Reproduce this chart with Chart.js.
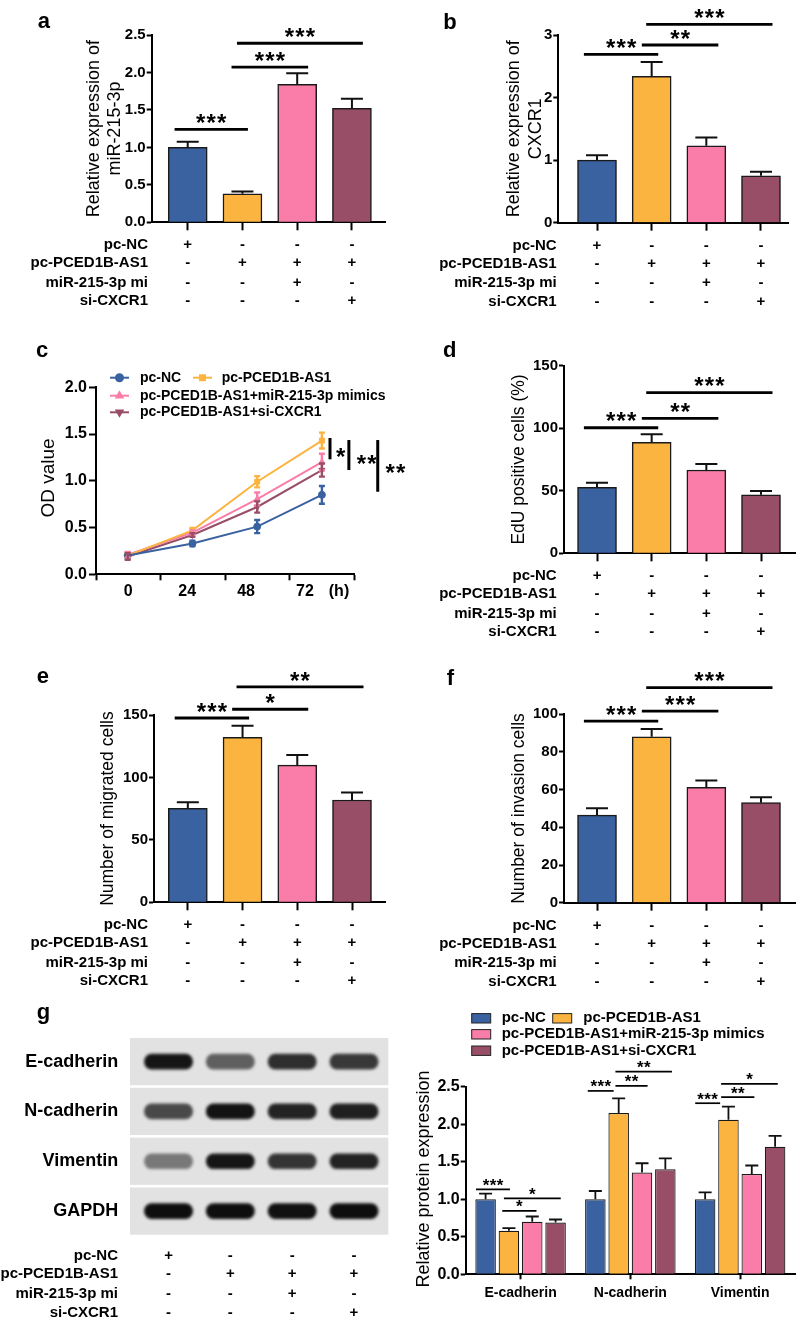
<!DOCTYPE html>
<html><head><meta charset="utf-8">
<script src="https://cdn.jsdelivr.net/npm/chart.js@4.4.1/dist/chart.umd.min.js"></script>
<style>
html,body{margin:0;padding:0;background:#fff;}
#page{position:relative;width:800px;height:1324px;overflow:hidden;background:#fff;}
canvas{position:absolute;}
</style></head><body><div id="page">
<canvas id="cA" width="400" height="330" style="left:0;top:0"></canvas>
<canvas id="cB" width="400" height="330" style="left:400px;top:0"></canvas>
<canvas id="cC" width="420" height="330" style="left:0;top:330px"></canvas>
<canvas id="cD" width="400" height="330" style="left:400px;top:330px"></canvas>
<canvas id="cE" width="400" height="330" style="left:0;top:660px"></canvas>
<canvas id="cF" width="400" height="330" style="left:400px;top:660px"></canvas>
<canvas id="cG1" width="400" height="334" style="left:0;top:990px"></canvas>
<canvas id="cG2" width="400" height="334" style="left:400px;top:990px"></canvas>
</div>
<script>
// ---------------- data ----------------
const groupNames = ['pc-NC','pc-PCED1B-AS1','pc-PCED1B-AS1+miR-215-3p mimics','pc-PCED1B-AS1+si-CXCR1'];
const groupIndex = [0,1,2,3];
const treatmentRows = ['pc-NC','pc-PCED1B-AS1','miR-215-3p mi','si-CXCR1'];
const treatmentSigns = [['+','-','-','-'],['-','+','+','+'],['-','-','+','-'],['-','-','-','+']];
const barColors = ['#3A62A0','#FBB440','#FA7CA8','#984E66'];

// a: miR-215-3p
const miR215Mean = [1.00, 0.38, 1.84, 1.52];
const miR215Sem  = [0.075, 0.03, 0.15, 0.13];
const miR215Sig  = [{x1:-0.24,x2:1.10,y:1.24,label:'***'},{x1:0.80,x2:2.20,y:2.07,label:'***'},{x1:0.90,x2:3.20,y:2.39,label:'***'}];
// b: CXCR1
const cxcr1Mean = [1.00, 2.34, 1.23, 0.75];
const cxcr1Sem  = [0.08, 0.23, 0.13, 0.065];
const cxcr1Sig  = [{x1:-0.24,x2:1.12,y:2.69,label:'***'},{x1:0.82,x2:2.22,y:2.84,label:'**'},{x1:0.90,x2:3.21,y:3.17,label:'***'}];
// c: OD value
const timePoints = [0, 24, 48, 72];
const odPcNC = [0.20, 0.33, 0.51, 0.85];
const odPcNCSem = [0.035, 0.03, 0.07, 0.095];
const odPced = [0.20, 0.47, 0.99, 1.43];
const odPcedSem = [0.03, 0.025, 0.06, 0.085];
const odMimics = [0.21, 0.445, 0.805, 1.20];
const odMimicsSem = [0.03, 0.025, 0.07, 0.09];
const odSiCxcr1 = [0.19, 0.42, 0.72, 1.115];
const odSiCxcr1Sem = [0.035, 0.02, 0.06, 0.07];
const odSig = [{x:75,y1:1.458,y2:1.23,label:'*',lx:79,ly:1.31},{x:82,y1:1.436,y2:1.115,label:'**',lx:88.6,ly:1.24},{x:92.7,y1:1.436,y2:0.883,label:'**',lx:99.3,ly:1.134}];
// d: EdU
const eduMean = [52.8, 88.7, 66.6, 46.8];
const eduSem  = [3.6, 6.4, 4.8, 3.0];
const eduSig  = [{x1:-0.24,x2:1.12,y:100.4,label:'***'},{x1:0.82,x2:2.22,y:107.9,label:'**'},{x1:0.90,x2:3.21,y:128.4,label:'***'}];
// e: migrated
const migMean = [75.3, 132.1, 109.9, 81.9];
const migSem  = [4.8, 9.3, 8.0, 6.1];
const migSig  = [{x1:-0.24,x2:1.12,y:147.6,label:'***'},{x1:0.81,x2:2.20,y:154.6,label:'*'},{x1:0.89,x2:3.21,y:172.5,label:'**'}];
// f: invasion
const invMean = [46.5, 88.1, 61.3, 53.1];
const invSem  = [3.6, 4.1, 3.5, 2.9];
const invSig  = [{x1:-0.24,x2:1.12,y:96.4,label:'***'},{x1:0.82,x2:2.22,y:101.7,label:'***'},{x1:0.90,x2:3.21,y:114.2,label:'***'}];
// g: western blot + protein quantification
const blotProteins = ['E-cadherin','N-cadherin','Vimentin','GAPDH'];
const blotLanes = [0,1,2,3];
const blotIntensity = [[0.97,0.62,0.85,0.8],[0.72,0.98,0.9,0.92],[0.5,0.97,0.82,0.9],[1.0,1.0,0.99,1.0]];
const proteins = ['E-cadherin','N-cadherin','Vimentin'];
const protPcNC = [1.00, 1.00, 1.00];   const protPcNCSem = [0.075, 0.11, 0.093];
const protPced = [0.58, 2.15, 2.06];   const protPcedSem = [0.035, 0.195, 0.175];
const protMimics = [0.70, 1.355, 1.335]; const protMimicsSem = [0.07, 0.125, 0.115];
const protSi = [0.69, 1.40, 1.70];     const protSiSem = [0.04, 0.145, 0.145];
const protSig = [
  {x1:-0.406,x2:-0.097,y:1.133,label:'***'},{x1:-0.167,x2:0.145,y:0.844,label:'*'},{x1:-0.152,x2:0.366,y:1.013,label:'*'},
  {x1:0.612,x2:0.848,y:2.444,label:'***'},{x1:0.864,x2:1.157,y:2.51,label:'**'},{x1:0.864,x2:1.379,y:2.70,label:'**'},
  {x1:1.591,x2:1.818,y:2.28,label:'***'},{x1:1.827,x2:2.13,y:2.36,label:'**'},{x1:1.827,x2:2.343,y:2.537,label:'*'}
];

// ---------------- helpers ----------------
const FONT = '"Liberation Sans", Arial, Helvetica, sans-serif';
Chart.defaults.font.family = FONT;
Chart.defaults.color = '#000';
const fitH = h => s => { s.height = h; s.paddingLeft = 0; s.paddingRight = 0; };
const fitW = w => s => { s.width = w; s.paddingTop = 0; s.paddingBottom = 0; };

function drawStars(ctx, label, cx, cy, size, spacing){
  ctx.save();
  ctx.font = `bold ${size}px ${FONT}`; ctx.textAlign='center'; ctx.textBaseline='alphabetic'; ctx.fillStyle='#000';
  const n = label.length;
  for (let i=0;i<n;i++){ ctx.fillText('*', cx + (i-(n-1)/2)*spacing, cy + 0.55*size); }
  ctx.restore();
}
function drawYTitle(ctx, lines, xs, cy, size){
  ctx.save(); ctx.font = `${size}px ${FONT}`; ctx.fillStyle='#000'; ctx.textAlign='center'; ctx.textBaseline='alphabetic';
  lines.forEach((t,i)=>{ ctx.save(); ctx.translate(xs[i], cy); ctx.rotate(-Math.PI/2); ctx.fillText(t,0,0); ctx.restore(); });
  ctx.restore();
}
function drawLetter(ctx, letter, x, y){
  ctx.save(); ctx.font = `bold 22px ${FONT}`; ctx.fillStyle='#000'; ctx.textAlign='left'; ctx.textBaseline='alphabetic';
  ctx.fillText(letter, x, y); ctx.restore();
}
function drawSignTable(ctx, xs, axisY, rightX, offsets, positions){
  ctx.save(); ctx.font = `bold 15px ${FONT}`; ctx.fillStyle='#000'; ctx.textBaseline='middle';
  treatmentRows.forEach((row,r)=>{
    const y = axisY + offsets[r];
    ctx.textAlign='right'; ctx.fillText(row, rightX, y);
    ctx.textAlign='center';
    treatmentSigns[r].forEach((s,i)=>ctx.fillText(s, xs.getPixelForValue(positions[i]), y));
  });
  ctx.restore();
}

function barPanel(id, p){
  const cv = document.getElementById(id); const W = cv.width, H = cv.height;
  const deco = {
    id:'deco'+id,
    afterDatasetsDraw(chart){
      const ctx = chart.ctx, ys = chart.scales.y, meta = chart.getDatasetMeta(0);
      ctx.save(); ctx.strokeStyle='#111'; ctx.lineWidth=2;
      meta.data.forEach((el,i)=>{
        const top = ys.getPixelForValue(p.mean[i] + p.sem[i]);
        ctx.beginPath(); ctx.moveTo(el.x, el.y); ctx.lineTo(el.x, top);
        ctx.moveTo(el.x-11, top); ctx.lineTo(el.x+11, top); ctx.stroke();
      });
      ctx.restore();
    },
    afterDraw(chart){
      const ctx = chart.ctx, xs = chart.scales.x, ys = chart.scales.y;
      drawLetter(ctx, p.letter, p.letterPos[0], p.letterPos[1]);
      drawYTitle(ctx, p.title, p.titleXs, p.titleY, p.titleSize);
      drawSignTable(ctx, xs, chart.chartArea.bottom, p.signRight, [23,41,60.5,79], groupIndex);
      ctx.save(); ctx.strokeStyle='#000'; ctx.lineWidth=2.8;
      p.sig.forEach(s=>{
        const x1 = xs.getPixelForValue(s.x1), x2 = xs.getPixelForValue(s.x2), y = ys.getPixelForValue(s.y);
        ctx.beginPath(); ctx.moveTo(x1,y); ctx.lineTo(x2,y); ctx.stroke();
        drawStars(ctx, s.label, (x1+x2)/2, y-11.5, 24, 10.5);
      });
      ctx.restore();
    }
  };
  return new Chart(cv, {
    type:'bar',
    data:{datasets:[{data: groupIndex.map((g,i)=>({x:g, y:p.mean[i]})), backgroundColor: barColors, borderColor:'#1a1a1a', borderWidth:1.5, barThickness:39}]},
    options:{
      responsive:false, animation:false, devicePixelRatio:1, events:[],
      layout:{padding:{left:0, right:W-p.area[1], top:p.area[2], bottom:H-p.area[3]}},
      plugins:{legend:{display:false}, tooltip:{enabled:false}},
      scales:{
        x:{type:'linear', min:p.xMin, max:p.xMax, offset:false,
           ticks:{display:false, stepSize:1, includeBounds:false},
           grid:{offset:false, drawOnChartArea:false, drawTicks:true, tickLength:8, tickWidth:2, tickColor:'#000'},
           border:{display:true, color:'#000', width:2}, afterFit:fitH(0)},
        y:{type:'linear', min:0, max:p.yMax,
           ticks:{stepSize:p.yStep, font:{size:15, weight:'bold'}, color:'#000', padding:1, callback:v=>v.toFixed(p.dec)},
           grid:{drawOnChartArea:false, drawTicks:true, tickLength:5, tickWidth:2, tickColor:'#000'},
           border:{display:true, color:'#000', width:2}, afterFit:fitW(p.area[0])}
      }
    },
    plugins:[deco]
  });
}

// a
barPanel('cA', {mean:miR215Mean, sem:miR215Sem, sig:miR215Sig, yMax:2.5, yStep:0.5, dec:1,
  area:[151.7,385,35,222.3], xMin:-0.658, xMax:3.604,
  letter:'a', letterPos:[37.7,28.3], title:['Relative expression of','miR-215-3p'], titleXs:[99,119.6], titleY:128.6, titleSize:18, signRight:148});
// b
barPanel('cB', {mean:cxcr1Mean, sem:cxcr1Sem, sig:cxcr1Sig, yMax:3, yStep:1, dec:0,
  area:[158.3,388,35,222.7], xMin:-0.708, xMax:3.494,
  letter:'b', letterPos:[43.3,29.3], title:['Relative expression of','CXCR1'], titleXs:[119,141], titleY:128.8, titleSize:18, signRight:156.7});
// d
barPanel('cD', {mean:eduMean, sem:eduSem, sig:eduSig, yMax:150, yStep:50, dec:0,
  area:[164,395,35.7,223.3], xMin:-0.604, xMax:3.622,
  letter:'d', letterPos:[43,27.3], title:['EdU positive cells (%)'], titleXs:[123.5], titleY:129.5, titleSize:17.5, signRight:156.7});
// e
barPanel('cE', {mean:migMean, sem:migSem, sig:migSig, yMax:150, yStep:50, dec:0,
  area:[154,385,55,242.3], xMin:-0.618, xMax:3.603,
  letter:'e', letterPos:[36.7,23.3], title:['Number of migrated cells'], titleXs:[113.2], titleY:148.6, titleSize:17.5, signRight:148});
// f
barPanel('cF', {mean:invMean, sem:invSem, sig:invSig, yMax:100, yStep:20, dec:0,
  area:[164,395,54.3,242.7], xMin:-0.604, xMax:3.622,
  letter:'f', letterPos:[46.7,25], title:['Number of invasion cells'], titleXs:[123.5], titleY:148.5, titleSize:17.5, signRight:156.7});

// c: line chart
(function(){
  const cv = document.getElementById('cC'); const W = cv.width, H = cv.height;
  const series = [odPcNC, odPced, odMimics, odSiCxcr1];
  const sems = [odPcNCSem, odPcedSem, odMimicsSem, odSiCxcr1Sem];
  const styles = ['circle','rect','triangle','triangle'];
  const rots = [0,0,0,180];
  const legendPos = [{lx:110,tx:140,y:47.7},{lx:193,tx:221.7,y:47.7},{lx:110,tx:140,y:65.7},{lx:110,tx:140,y:82.3}];
  const deco = {
    id:'decoC',
    afterDatasetsDraw(chart){
      const ctx = chart.ctx, ys = chart.scales.y;
      ctx.save(); ctx.lineWidth=2.4;
      series.forEach((s,k)=>{
        const meta = chart.getDatasetMeta(k);
        ctx.strokeStyle = barColors[k];
        meta.data.forEach((pt,i)=>{
          const t = ys.getPixelForValue(s[i]+sems[k][i]), b = ys.getPixelForValue(s[i]-sems[k][i]);
          ctx.beginPath(); ctx.moveTo(pt.x,t); ctx.lineTo(pt.x,b);
          ctx.moveTo(pt.x-3,t); ctx.lineTo(pt.x+3,t); ctx.moveTo(pt.x-3,b); ctx.lineTo(pt.x+3,b); ctx.stroke();
        });
      });
      ctx.restore();
    },
    afterDraw(chart){
      const ctx = chart.ctx, xs = chart.scales.x, ys = chart.scales.y;
      drawLetter(ctx, 'c', 36, 27.3);
      drawYTitle(ctx, ['OD value'], [54], 148, 19);
      ctx.save(); ctx.font = `bold 16px ${FONT}`; ctx.fillStyle='#000'; ctx.textAlign='center'; ctx.textBaseline='middle';
      ctx.fillText('(h)', 339, 261.7); ctx.restore();
      // legend
      ctx.save();
      groupNames.forEach((name,k)=>{
        const L = legendPos[k];
        ctx.strokeStyle = barColors[k]; ctx.fillStyle = barColors[k]; ctx.lineWidth = 2;
        ctx.beginPath(); ctx.moveTo(L.lx, L.y); ctx.lineTo(L.lx+19, L.y); ctx.stroke();
        Chart.helpers.drawPoint(ctx, {pointStyle:styles[k], radius:3.5, rotation:rots[k], borderWidth:1}, L.lx+9.5, L.y);
        ctx.fillStyle='#000'; ctx.font = `bold 14px ${FONT}`; ctx.textAlign='left'; ctx.textBaseline='middle';
        ctx.fillText(name, L.tx, L.y);
      });
      ctx.restore();
      // significance
      ctx.save(); ctx.strokeStyle='#000'; ctx.lineWidth=3;
      odSig.forEach(s=>{
        const x = xs.getPixelForValue(s.x);
        ctx.beginPath(); ctx.moveTo(x, ys.getPixelForValue(s.y1)); ctx.lineTo(x, ys.getPixelForValue(s.y2)); ctx.stroke();
        drawStars(ctx, s.label, xs.getPixelForValue(s.lx), ys.getPixelForValue(s.ly), 24, 10.5);
      });
      ctx.restore();
    }
  };
  new Chart(cv, {
    type:'line',
    data:{datasets: groupNames.map((name,k)=>({label:name, data: timePoints.map((t,i)=>({x:t, y:series[k][i]})),
      borderColor:barColors[k], backgroundColor:barColors[k], borderWidth:2, pointStyle:styles[k], pointRotation:rots[k],
      pointRadius:3.5, pointBorderWidth:1, tension:0}))},
    options:{
      responsive:false, animation:false, devicePixelRatio:1, events:[],
      layout:{padding:{left:0, right:W-354, top:57.3, bottom:0}},
      plugins:{legend:{display:false}, tooltip:{enabled:false}},
      scales:{
        x:{type:'linear', position:'bottom', weight:0, min:-11.76, max:83.9,
           ticks:{display:false, stepSize:24, includeBounds:false},
           grid:{drawOnChartArea:false, drawTicks:true, tickLength:6, tickWidth:2, tickColor:'#000'},
           border:{display:true, color:'#000', width:2}, afterFit:fitH(0)},
        x2:{type:'linear', position:'bottom', weight:1, min:-13.16, max:91.97,
           ticks:{stepSize:24, includeBounds:false, font:{size:16, weight:'bold'}, color:'#000', padding:7.8, maxRotation:0},
           grid:{display:false, drawTicks:false}, border:{display:false}, afterFit:fitH(H-244.3)},
        y:{type:'linear', min:0, max:2, 
           ticks:{stepSize:0.5, font:{size:16, weight:'bold'}, color:'#000', padding:2, callback:v=>v.toFixed(1)},
           grid:{drawOnChartArea:false, drawTicks:true, tickLength:7, tickWidth:2, tickColor:'#000'},
           border:{display:true, color:'#000', width:2}, afterFit:fitW(96)}
      }
    },
    plugins:[deco]
  });
})();

// g left: western blot
(function(){
  const cv = document.getElementById('cG1'); const W = cv.width, H = cv.height;
  const deco = {
    id:'decoG1',
    beforeDatasetsDraw(chart){
      const ctx = chart.ctx, ys = chart.scales.y, a = chart.chartArea;
      const half = (a.bottom - a.top) / blotProteins.length / 2;
      ctx.save(); ctx.fillStyle = '#e2e2e2';
      blotProteins.forEach((p,k)=>{ const yc = ys.getPixelForValue(k); ctx.fillRect(a.left, yc-half+1.3, a.right-a.left, 2*half-2.6); });
      ctx.restore();
      ctx.save(); ctx.filter = 'blur(1.8px)';
    },
    afterDatasetsDraw(chart){ chart.ctx.restore(); },
    afterDraw(chart){
      const ctx = chart.ctx;
      drawLetter(ctx, 'g', 36.7, 28.7);
      drawSignTable(ctx, chart.scales.x, chart.chartArea.bottom, 118, [20,38,58,77], blotLanes);
    }
  };
  new Chart(cv, {
    type:'bar',
    data:{labels: blotProteins, datasets: blotLanes.map(l=>({
      data: blotProteins.map(()=>[l-0.39, l+0.39]),
      backgroundColor: blotProteins.map((p,k)=>`rgba(14,14,14,${blotIntensity[k][l]})`),
      barThickness:15, borderRadius:7.5, borderSkipped:false, grouped:false}))},
    options:{
      indexAxis:'y', responsive:false, animation:false, devicePixelRatio:1, events:[],
      layout:{padding:{left:0, right:W-388.3, top:46.7, bottom:H-246}},
      plugins:{legend:{display:false}, tooltip:{enabled:false}},
      scales:{
        x:{type:'linear', min:-0.623, max:3.555, display:false},
        y:{type:'category', offset:true, ticks:{font:{size:18, weight:'bold'}, color:'#000', padding:11.7},
           grid:{display:false, drawTicks:false}, border:{display:false}, afterFit:fitW(130)}
      }
    },
    plugins:[deco]
  });
})();

// g right: protein expression
(function(){
  const cv = document.getElementById('cG2'); const W = cv.width, H = cv.height;
  const series = [protPcNC, protPced, protMimics, protSi];
  const sems = [protPcNCSem, protPcedSem, protMimicsSem, protSiSem];
  const legendPos = [{rx:71.7,tx:101.7,y:28.3},{rx:152.7,tx:183.3,y:28.3},{rx:71.7,tx:101.7,y:44.3},{rx:71.7,tx:101.7,y:60.7}];
  const deco = {
    id:'decoG2',
    afterDatasetsDraw(chart){
      const ctx = chart.ctx, ys = chart.scales.y;
      ctx.save(); ctx.strokeStyle='#111'; ctx.lineWidth=1.8;
      series.forEach((s,k)=>{
        chart.getDatasetMeta(k).data.forEach((el,i)=>{
          const top = ys.getPixelForValue(s[i]+sems[k][i]);
          ctx.beginPath(); ctx.moveTo(el.x, el.y); ctx.lineTo(el.x, top);
          ctx.moveTo(el.x-6.5, top); ctx.lineTo(el.x+6.5, top); ctx.stroke();
        });
      });
      ctx.restore();
    },
    afterDraw(chart){
      const ctx = chart.ctx, xs = chart.scales.x, ys = chart.scales.y;
      drawYTitle(ctx, ['Relative protein expression'], [28.5], 189, 18);
      ctx.save();
      groupNames.forEach((name,k)=>{
        const L = legendPos[k];
        ctx.fillStyle = barColors[k]; ctx.fillRect(L.rx, L.y-4.7, 19, 9.4);
        ctx.strokeStyle = '#222'; ctx.lineWidth = 1; ctx.strokeRect(L.rx, L.y-4.7, 19, 9.4);
        ctx.fillStyle = '#000'; ctx.font = `bold 15px ${FONT}`; ctx.textAlign='left'; ctx.textBaseline='middle';
        ctx.fillText(name, L.tx, L.y);
      });
      ctx.restore();
      ctx.save(); ctx.strokeStyle='#000'; ctx.lineWidth=1.7;
      protSig.forEach(s=>{
        const x1 = xs.getPixelForValue(s.x1), x2 = xs.getPixelForValue(s.x2), y = ys.getPixelForValue(s.y);
        ctx.beginPath(); ctx.moveTo(x1,y); ctx.lineTo(x2,y); ctx.stroke();
        drawStars(ctx, s.label, (x1+x2)/2, y-8, 17, 7);
      });
      ctx.restore();
    }
  };
  new Chart(cv, {
    type:'bar',
    data:{labels: proteins, datasets: groupNames.map((name,k)=>({label:name, data:series[k], backgroundColor:barColors[k],
      borderColor:'#1a1a1a', borderWidth:1.2, barPercentage:0.88, categoryPercentage:0.85}))},
    options:{
      responsive:false, animation:false, devicePixelRatio:1, events:[],
      layout:{padding:{left:0, right:W-395, top:96.7, bottom:0}},
      plugins:{legend:{display:false}, tooltip:{enabled:false}},
      scales:{
        x:{type:'category', offset:true,
           ticks:{font:{size:14, weight:'bold'}, color:'#000', padding:5.6, maxRotation:0, autoSkip:false},
           grid:{offset:false, drawOnChartArea:false, drawTicks:true, tickLength:5, tickWidth:2, tickColor:'#000'},
           border:{display:true, color:'#000', width:2}, afterFit:fitH(H-284.3)},
        y:{type:'linear', min:0, max:2.5,
           ticks:{stepSize:0.5, font:{size:16, weight:'bold'}, color:'#000', padding:1, callback:v=>v.toFixed(1)},
           grid:{drawOnChartArea:false, drawTicks:true, tickLength:5, tickWidth:2, tickColor:'#000'},
           border:{display:true, color:'#000', width:2}, afterFit:fitW(65.7)}
      }
    },
    plugins:[deco]
  });
})();
</script>
</body></html>
